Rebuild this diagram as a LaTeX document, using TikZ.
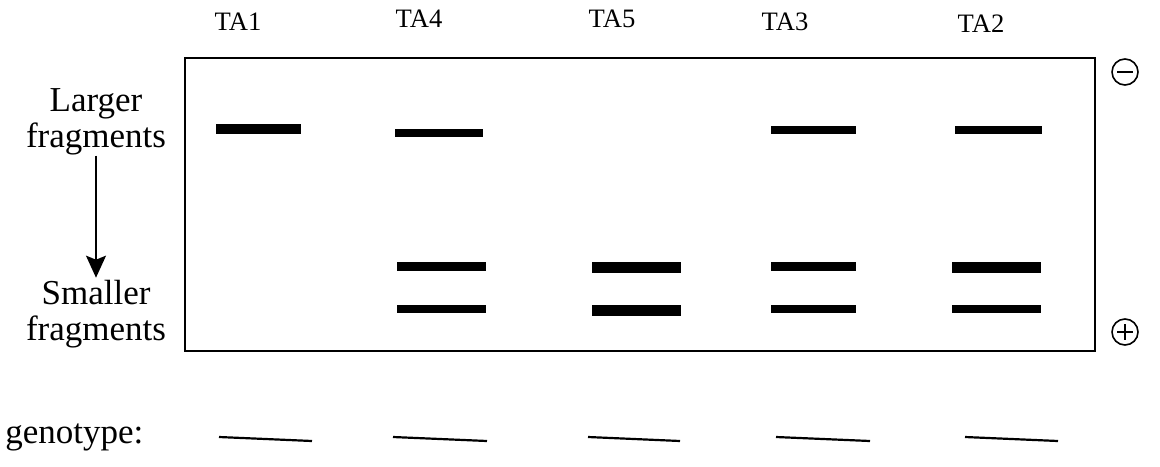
\documentclass[tikz,border=0pt]{standalone}
\usepackage{fontspec}
\setmainfont{Liberation Serif}
\usetikzlibrary{arrows.meta}
\tikzset{
    lane/.style={font=\fontsize{13.3}{15}\selectfont},
    side/.style={font=\fontsize{17.5}{18}\selectfont, align=center},
    band/.style={fill=black},
    blank/.style={draw=black, line width=1.1pt}
}
\begin{document}
\begin{tikzpicture}[x=0.5pt,y=-0.5pt]
    \tikzstyle{every node}+=[inner sep=0pt]
    \useasboundingbox (0,0) rectangle (1160,466);
    % lane names
    \node [lane] (ta1) at (238,22) {TA1};
    \node [lane] (ta4) at (419,19) {TA4};
    \node [lane] (ta5) at (612,19) {TA5};
    \node [lane] (ta3) at (785,22) {TA3};
    \node [lane] (ta2) at (981,24) {TA2};
    % gel
    \draw [black, line width=1pt] (185,58) rectangle (1095,351);
    % bands, top row
    \fill [band] (216,124) rectangle (301,134);
    \fill [band] (395,129) rectangle (483,137);
    \fill [band] (771,126) rectangle (856,134);
    \fill [band] (955,126) rectangle (1042,134);
    % bands, lower rows
    \fill [band] (397,262) rectangle (486,271);
    \fill [band] (397,305) rectangle (486,313);
    \fill [band] (592,262) rectangle (681,273);
    \fill [band] (592,305) rectangle (681,316);
    \fill [band] (771,262) rectangle (856,271);
    \fill [band] (771,305) rectangle (856,313);
    \fill [band] (952,262) rectangle (1041,273);
    \fill [band] (952,305) rectangle (1041,313);
    % electrodes
    \draw [black, line width=0.8pt] (1125,72) circle (13);
    \draw [black, line width=0.8pt] (1117,72) -- (1133,72);
    \draw [black, line width=0.8pt] (1125,332) circle (13);
    \draw [black, line width=0.8pt] (1117,332) -- (1133,332);
    \draw [black, line width=0.8pt] (1125,324) -- (1125,340);
    % size direction
    \node [side] (large) at (96,122) {Larger\\fragments};
    \node [side] (small) at (96,314) {Smaller\\fragments};
    \draw [black, line width=0.8pt, -{Stealth[length=11pt,width=10pt,inset=2pt]}, shorten >=1pt] (large) -- (small);
    % genotype blanks
    \node [side, anchor=west] (geno) at (5,437) {genotype:};
    \draw [blank] (219,437) -- (312,441);
    \draw [blank] (393,437) -- (487,441);
    \draw [blank] (588,437) -- (680,441);
    \draw [blank] (776,437) -- (870,441);
    \draw [blank] (965,437) -- (1058,441);
\end{tikzpicture}
\end{document}
